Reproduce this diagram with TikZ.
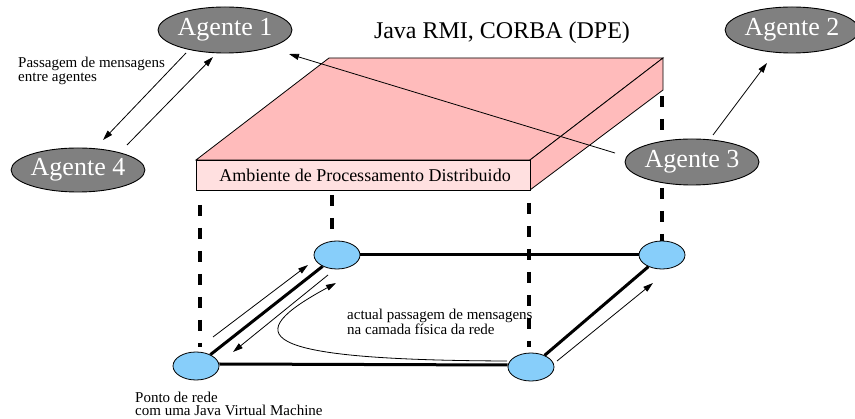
\documentclass[tikz,border=0pt]{standalone}
\usepackage{fontspec}
\setmainfont{Liberation Serif}
\usetikzlibrary{shapes.geometric,arrows.meta}
\definecolor{agentgray}{RGB}{128,128,128}
\definecolor{slabtop}{RGB}{255,187,187}
\definecolor{slabfront}{RGB}{255,224,224}
\definecolor{netblue}{RGB}{135,206,250}
\tikzset{
  agent/.style={ellipse,draw=black,line width=0.9pt,fill=agentgray,text=white,inner sep=0pt,
    minimum width=134pt,minimum height=46pt,font=\fontsize{26}{26}\selectfont},
  netnode/.style={ellipse,draw=black,line width=0.8pt,fill=netblue,inner sep=0pt,
    minimum width=46pt,minimum height=28pt},
  thinarrow/.style={line width=0.8pt,-{Triangle[length=10pt,width=6pt]}},
  thickline/.style={line width=3pt},
  vdash/.style={line width=4pt,dash pattern=on 11pt off 12pt},
  slabface/.style={draw=black,line width=0.8pt,line join=miter},
  smalltext/.style={font=\fontsize{15}{13.5}\selectfont,align=left,inner sep=0pt,anchor=north west}
}
\begin{document}
\begin{tikzpicture}[x=1pt,y=-1pt]
\useasboundingbox (0,0) rectangle (855,419);
% slab
\coordinate (F1) at (196,160);
\coordinate (F2) at (530,160);
\coordinate (F3) at (530,190);
\coordinate (F4) at (196,190);
\coordinate (B1) at (329,58);
\coordinate (B2) at (663,58);
\coordinate (B3) at (663,90);
\fill[slabtop] (F1) -- (B1) -- (B2) -- (F2) -- cycle;
\draw[slabface] (F1) -- (B1) -- (B2) -- (F2) -- cycle;
\fill[slabtop] (F2) -- (B2) -- (B3) -- (F3) -- cycle;
\draw[slabface] (F2) -- (B2) -- (B3) -- (F3) -- cycle;
\fill[slabfront] (F1) -- (F2) -- (F3) -- (F4) -- cycle;
\draw[slabface] (F1) -- (F2) -- (F3) -- (F4) -- cycle;
\node[font=\fontsize{18}{18}\selectfont,inner sep=0pt] (dpe) at (365,175) {Ambiente de Processamento Distribuido};
\node[font=\fontsize{24}{24}\selectfont,inner sep=0pt] (java) at (502,33) {Java RMI, CORBA (DPE)};
% dashed verticals
\coordinate (d1a) at (200,205); \coordinate (d1b) at (200,347);
\coordinate (d2a) at (332,195); \coordinate (d2b) at (332,229);
\coordinate (d3a) at (529,203); \coordinate (d3b) at (529,347);
\coordinate (d4a) at (662,96); \coordinate (d4b) at (662,242);
\draw[vdash] (d1a) -- (d1b);
\draw[vdash] (d2a) -- (d2b);
\draw[vdash] (d3a) -- (d3b);
\draw[vdash] (d4a) -- (d4b);
% network nodes
\node[netnode] (A) at (196,366) {};
\node[netnode] (B) at (337,255) {};
\node[netnode] (C) at (531,367) {};
\node[netnode] (D) at (662,255) {};
\draw[thickline] (B.east) -- (D.west);
\draw[thickline] ([yshift=2pt]A.east) -- ([yshift=2pt]C.west);
\draw[thickline] (A) -- (B);
\draw[thickline] (C) -- (D);
% thin arrows between network nodes
\coordinate (u1) at (213,337); \coordinate (u2) at (308,265);
\coordinate (l1) at (328,275); \coordinate (l2) at (233,352);
\coordinate (r1) at (557,361); \coordinate (r2) at (653,283);
\coordinate (c1) at (507,361); \coordinate (c2) at (336,283);
\draw[thinarrow] (u1) -- (u2);
\draw[thinarrow] (l1) -- (l2);
\draw[thinarrow] (r1) -- (r2);
\draw[thinarrow] (c1) .. controls (250,360) and (240,335) .. (c2);
% agents
\node[agent] (a1) at (225,30) {Agente 1};
\node[agent,minimum width=124pt] (a2) at (792,30) {Agente 2};
\node[agent] (a3) at (692,162) {Agente 3};
\node[agent,minimum width=133pt,minimum height=44pt] (a4) at (78,170) {Agente 4};
\coordinate (p1) at (186,53); \coordinate (p2) at (103,140);
\coordinate (q1) at (127,145); \coordinate (q2) at (213,57);
\coordinate (s1) at (615,153); \coordinate (s2) at (289,54);
\coordinate (t1) at (713,135); \coordinate (t2) at (767,63);
\draw[thinarrow] (p1) -- (p2);
\draw[thinarrow] (q1) -- (q2);
\draw[thinarrow] (s1) -- (s2);
\draw[thinarrow] (t1) -- (t2);
% labels
\node[smalltext] (lbl1) at (18,57) {Passagem de mensagens\\entre agentes};
\node[smalltext] (lbl2) at (347,308.7) {actual passagem de mensagens\\na camada física da rede};
\node[smalltext] (lbl3) at (135,391.7) {Ponto de rede\\com uma Java Virtual Machine};
\end{tikzpicture}
\end{document}
